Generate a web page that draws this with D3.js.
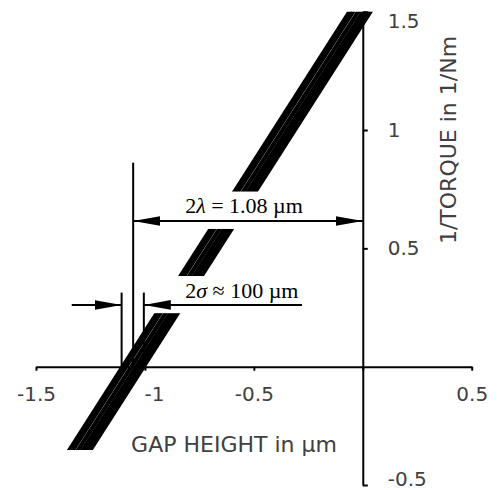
<!DOCTYPE html>
<html>
<head>
<meta charset="utf-8">
<style>
  body { margin: 0; background: #fff; }
  .axis path, .axis line { stroke: #000; stroke-width: 2px; }
  .axis text { font-family: "DejaVu Sans", Verdana, sans-serif; font-size: 20px; fill: #404040; }
  .title { font-family: "DejaVu Sans", Verdana, sans-serif; font-size: 22px; fill: #404040; }
  .band { fill: none; stroke: #000; stroke-width: 4.25px; }
  .note { stroke: #000; stroke-width: 2px; fill: none; }
  .label { font-family: "Liberation Serif", "Times New Roman", serif; font-size: 22px; fill: #000; }
</style>
</head>
<body>
<script src="https://d3js.org/d3.v7.min.js"></script>
<script>
// axis ticks
var xTicks = [-1.5, -1, -0.5, 0, 0.5];
var yTicks = [-0.5, 0.5, 1, 1.5];

var bandY = [-0.36, 1.51];
var bandBottomX = [-1.352, -1.336, -1.312, -1.290, -1.271, -1.256];
var bandTopX = [-0.054, -0.038, -0.014, 0.008, 0.027, 0.042];
var bandCut = [-0.352, 1.5];   // band is cut flat at these heights

// annotation values
var lambdaX = -1.054, lambdaTop = 0.862, lambdaArrowY = 0.616;
var sigmaX = [-1.107, -1.005], sigmaTop = 0.313, sigmaArrowY = 0.261;
var sigmaArrowOut = [-1.336, -0.279];
var lambdaBox = [-0.9, -0.2, 0.582, 0.74];
var sigmaBox = [-0.97, -0.25, 0.226, 0.383];

var width = 498, height = 490;

var x = d3.scaleLinear().domain([-1.5, 0.5]).range([36, 471.7]);
var y = d3.scaleLinear().domain([-0.5, 1.5]).range([485, 11.7]);

var svg = d3.select("body").append("svg")
    .attr("width", width)
    .attr("height", height);

var defs = svg.append("defs");
defs.append("marker")
    .attr("id", "head")
    .attr("markerUnits", "userSpaceOnUse")
    .attr("viewBox", "0 -5 27 10")
    .attr("refX", 27).attr("refY", 0)
    .attr("markerWidth", 27).attr("markerHeight", 10)
    .attr("orient", "auto-start-reverse")
  .append("path")
    .attr("d", "M0,-4.8L27,0L0,4.8Z")
    .attr("fill", "#000");

defs.append("clipPath").attr("id", "cut")
  .append("rect")
    .attr("x", 0).attr("width", width)
    .attr("y", y(bandCut[1]))
    .attr("height", y(bandCut[0]) - y(bandCut[1]));

// x axis through y = 0
var gx = svg.append("g")
    .attr("class", "axis")
    .attr("transform", "translate(0," + y(0) + ")")
    .call(d3.axisBottom(x)
      .tickValues(xTicks)
      .tickSize(4)
      .tickSizeOuter(0)
      .tickFormat(function(d) { return d === 0 ? "" : String(d); }));
gx.selectAll("text").attr("y", 20);
gx.selectAll(".tick").filter(function(d) { return d === -1; })
    .select("text").attr("dx", 9);

// y axis through x = 0, labels on the right
var gy = svg.append("g")
    .attr("class", "axis")
    .attr("transform", "translate(" + x(0) + ",0)")
    .call(d3.axisRight(y)
      .tickValues(yTicks)
      .tickSize(5)
      .tickSizeOuter(0)
      .tickFormat(function(d) { return String(d); }));
gy.selectAll("text").attr("x", 25).attr("text-anchor", "start");
gy.selectAll(".tick").filter(function(d) { return d === 1.5; })
    .select("text").attr("dy", "0.78em");
// keep the bottom label inside the picture
gy.selectAll(".tick").filter(function(d) { return d === -0.5; })
    .select("text").attr("dy", "0em");

// the band of lines
var line = d3.line()
    .x(function(d) { return x(d[0]); })
    .y(function(d) { return y(d[1]); });

var bandData = bandBottomX.map(function(b, i) {
  return [[b, bandY[0]], [bandTopX[i], bandY[1]]];
});

svg.append("g")
    .attr("clip-path", "url(#cut)")
  .selectAll("path")
  .data(bandData)
  .enter().append("path")
    .attr("class", "band")
    .attr("d", line);

// white text boxes
[lambdaBox, sigmaBox].forEach(function(b) {
  svg.append("rect")
      .attr("x", x(b[0])).attr("width", x(b[1]) - x(b[0]))
      .attr("y", y(b[3])).attr("height", y(b[2]) - y(b[3]))
      .attr("fill", "#fff");
});

// 2 lambda
svg.append("path").attr("class", "note")
    .attr("d", line([[lambdaX, 0], [lambdaX, lambdaTop]]));
svg.append("path").attr("class", "note")
    .attr("marker-start", "url(#head)")
    .attr("marker-end", "url(#head)")
    .attr("d", line([[lambdaX, lambdaArrowY], [0, lambdaArrowY]]));

var tl = svg.append("text").attr("class", "label")
    .attr("x", x(-0.545)).attr("y", y(0.648))
    .attr("text-anchor", "middle");
tl.append("tspan").text("2");
tl.append("tspan").attr("font-style", "italic").text("λ");
tl.append("tspan").text(" = 1.08 µm");

// 2 sigma
sigmaX.forEach(function(sx) {
  svg.append("path").attr("class", "note")
      .attr("d", line([[sx, 0], [sx, sigmaTop]]));
});
svg.append("path").attr("class", "note")
    .attr("marker-end", "url(#head)")
    .attr("d", line([[sigmaArrowOut[0], sigmaArrowY], [sigmaX[0], sigmaArrowY]]));
svg.append("path").attr("class", "note")
    .attr("marker-end", "url(#head)")
    .attr("d", line([[sigmaArrowOut[1], sigmaArrowY], [sigmaX[1], sigmaArrowY]]));

var ts = svg.append("text").attr("class", "label")
    .attr("x", x(-0.555)).attr("y", y(0.29))
    .attr("text-anchor", "middle");
ts.append("tspan").text("2");
ts.append("tspan").attr("font-style", "italic").text("σ");
ts.append("tspan").text(" ≈ 100 µm");

// axis titles
svg.append("text").attr("class", "title")
    .attr("x", 234).attr("y", 452)
    .attr("text-anchor", "middle")
    .text("GAP HEIGHT in µm");

svg.append("text").attr("class", "title")
    .attr("transform", "translate(456,140) rotate(-90)")
    .attr("text-anchor", "middle")
    .text("1/TORQUE in 1/Nm");
</script>
</body>
</html>
